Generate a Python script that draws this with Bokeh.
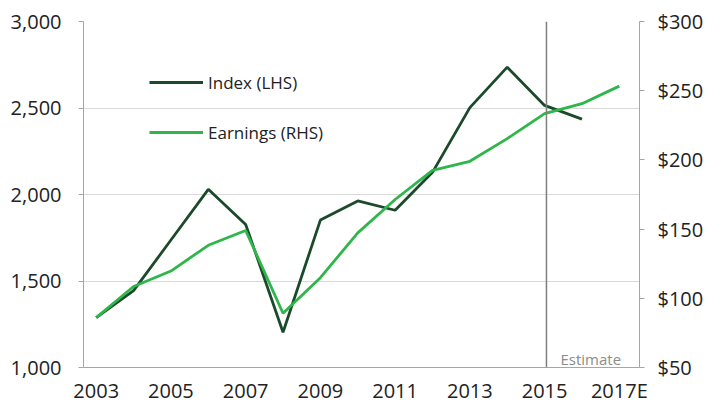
from bokeh.plotting import figure
from bokeh.models import (Range1d, LinearAxis, FixedTicker, NumeralTickFormatter,
                          Span, Label, Legend, LegendItem)
from bokeh.embed import file_html
from bokeh.resources import INLINE

# ---- data ----
years = [2003, 2004, 2005, 2006, 2007, 2008, 2009, 2010, 2011, 2012, 2013, 2014, 2015, 2016, 2017]
index_years = [2003, 2004, 2005, 2006, 2007, 2008, 2009, 2010, 2011, 2012, 2013, 2014, 2015, 2016]
index_vals = [1288, 1444, 1737, 2030, 1827, 1204, 1852, 1963, 1909, 2128, 2502, 2736, 2515, 2436]
earnings_vals = [86, 108.5, 119.7, 138.3, 149, 89.2, 114.9, 147.3, 171.4, 192.5, 199, 215.4, 233.4, 240.6, 253.3]
x_ticks = [2003, 2005, 2007, 2009, 2011, 2013, 2015, 2017]
x_tick_labels = ["2003", "2005", "2007", "2009", "2011", "2013", "2015", "2017E"]
left_ticks = [1000, 1500, 2000, 2500, 3000]
right_ticks = [50, 100, 150, 200, 250, 300]
estimate_start = 2015.05
estimate_text = "Estimate"
series_names = ["Index (LHS)", "Earnings (RHS)"]

FONT = "Open Sans"
DARK = "#1b4a2a"
BRIGHT = "#2fb64b"
AXIS_GRAY = "#a6a6a6"
GRID_GRAY = "#d9d9d9"
TEXT = "#222222"
FS = "20px"

p = figure(width=709, height=412, output_backend="svg", toolbar_location=None,
           x_range=Range1d(2002.66, 2017.54), y_range=Range1d(1000, 3000),
           min_border_left=83, min_border_right=70, min_border_top=21, min_border_bottom=45)
p.outline_line_color = None
p.background_fill_color = "white"
p.border_fill_color = "white"
p.extra_y_ranges = {"rhs": Range1d(50, 300)}

# grid
p.xgrid.visible = False
p.ygrid.ticker = FixedTicker(ticks=left_ticks)
p.ygrid.grid_line_color = GRID_GRAY
p.ygrid.grid_line_width = 1

# x axis
xa = p.xaxis[0]
xa.ticker = FixedTicker(ticks=x_ticks)
xa.major_label_overrides = {t: l for t, l in zip(x_ticks, x_tick_labels)}
xa.axis_line_color = AXIS_GRAY
xa.major_tick_line_color = None
xa.major_tick_out = 0
xa.major_tick_in = 0
xa.minor_tick_line_color = None
xa.major_label_standoff = 9
xa.major_label_text_font = FONT
xa.major_label_text_font_size = FS
xa.major_label_text_color = TEXT

# left axis
ya = p.yaxis[0]
ya.ticker = FixedTicker(ticks=left_ticks)
ya.formatter = NumeralTickFormatter(format="0,0")
ya.axis_line_color = AXIS_GRAY
ya.major_tick_line_color = AXIS_GRAY
ya.major_tick_out = 5
ya.major_tick_in = 0
ya.minor_tick_line_color = None
ya.major_label_standoff = 17
ya.major_label_text_font = FONT
ya.major_label_text_font_size = FS
ya.major_label_text_color = TEXT

# right axis
ra = LinearAxis(y_range_name="rhs", ticker=FixedTicker(ticks=right_ticks),
                formatter=NumeralTickFormatter(format="$0"))
ra.axis_line_color = AXIS_GRAY
ra.major_tick_line_color = AXIS_GRAY
ra.major_tick_out = 5
ra.major_tick_in = 0
ra.minor_tick_line_color = None
ra.major_label_standoff = 13
ra.major_label_text_font = FONT
ra.major_label_text_font_size = FS
ra.major_label_text_color = TEXT
p.add_layout(ra, "right")

# estimate divider
p.add_layout(Span(location=estimate_start, dimension="height", line_color="#7f7f7f", line_width=1.5))
p.add_layout(Label(x=estimate_start, y=1000, x_offset=14, y_offset=9, text=estimate_text,
                   text_font=FONT, text_font_size="15px", text_color="#8c8c8c",
                   text_baseline="alphabetic", text_align="left"))

# series
r_idx = p.line(index_years, index_vals, line_color=DARK, line_width=2.8)
r_earn = p.line(years, earnings_vals, line_color=BRIGHT, line_width=2.8, y_range_name="rhs")

legend = Legend(items=[LegendItem(label=series_names[0], renderers=[r_idx]),
                       LegendItem(label=series_names[1], renderers=[r_earn])],
                location=(66, 220), orientation="vertical",
                glyph_width=54, glyph_height=30, label_height=30, spacing=20,
                label_standoff=5, padding=0, margin=0,
                border_line_color=None, background_fill_alpha=0,
                label_text_font=FONT, label_text_font_size="17px", label_text_color=TEXT)
p.add_layout(legend, "center")

open("out.html", "w").write(file_html(p, INLINE))
